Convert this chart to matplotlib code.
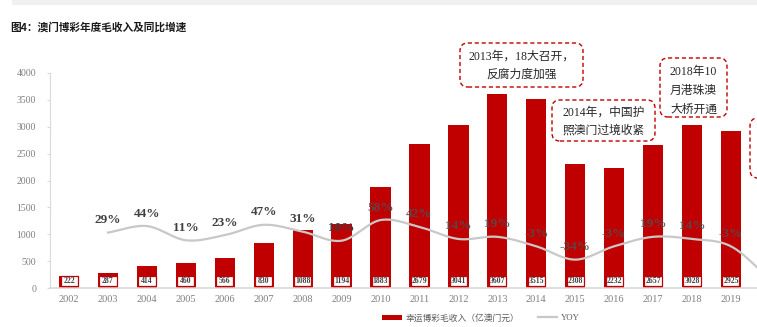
import numpy as np
import matplotlib
matplotlib.use("Agg")
import matplotlib.pyplot as plt
from matplotlib.patches import FancyBboxPatch, Rectangle
from matplotlib.lines import Line2D

years = ["2002", "2003", "2004", "2005", "2006", "2007", "2008", "2009", "2010",
         "2011", "2012", "2013", "2014", "2015", "2016", "2017", "2018", "2019"]
revenue = [222, 287, 414, 460, 566, 830, 1088, 1194, 1883, 2679, 3041, 3607,
           3515, 2308, 2232, 2657, 3028, 2925]
# YOY for 2003..2020 (2020 only partly visible at the right edge)
yoy_years_idx = list(range(1, 19))
yoy = [0.29, 0.44, 0.11, 0.23, 0.47, 0.31, 0.10, 0.58, 0.42, 0.14, 0.19,
       -0.03, -0.34, -0.03, 0.19, 0.14, -0.03, -0.79]
yoy_labels = ["29%", "44%", "11%", "23%", "47%", "31%", "10%", "58%", "42%",
              "14%", "19%", "-3%", "-34%", "-3%", "19%", "14%", "-3%"]

W, H = 757, 327
fig = plt.figure(figsize=(W / 100, H / 100), dpi=100)
ax = fig.add_axes([50 / W, 1 - 288 / H, 1 - 50 / W, (288 - 73) / H])

RED = "#C00000"
serif = ["Liberation Serif", "Noto Sans CJK SC"]
cjk_serif = ["Liberation Serif", "Noto Sans CJK SC"]

x = np.arange(len(years))
ax.bar(x, revenue, width=0.52, color=RED, zorder=2)
# white value boxes at the foot of each bar
ax.bar(x, 180, bottom=40, width=0.44, color="white", edgecolor=RED, lw=0.9, zorder=3)
for xi, v in zip(x, revenue):
    ax.text(xi, 130, str(v), ha="center", va="center", fontsize=5.6, fontweight="bold",
            family=serif, color="#404040", zorder=4)

ax.set_xlim(-0.49, 17.67)
ax.set_ylim(0, 4000)
ax.set_yticks(np.arange(0, 4001, 500))
ax.set_xticks(x)
ax.set_xticklabels(years)
for lab in ax.get_yticklabels():
    lab.set_family(serif); lab.set_fontsize(7); lab.set_color("#7f7f7f")
for lab in ax.get_xticklabels():
    lab.set_family(serif); lab.set_fontsize(7.5); lab.set_color("#7f7f7f")
ax.tick_params(axis="x", length=0, pad=5)
ax.tick_params(axis="y", length=2, width=0.8, color="#d9d9d9", pad=8)
for s in ["top", "right"]:
    ax.spines[s].set_visible(False)
ax.spines["left"].set_color("#d9d9d9")
ax.spines["bottom"].set_color("#d9d9d9")
ax.spines["bottom"].set_linewidth(1.2)

# secondary axis for YOY
ax2 = ax.twinx()
ax2.set_ylim(-1, 4)
ax2.set_xlim(ax.get_xlim())
ax2.axis("off")


def catmull(xs, ys, n=20):
    xs = np.asarray(xs, float); ys = np.asarray(ys, float)
    px = np.concatenate([[2 * xs[0] - xs[1]], xs, [2 * xs[-1] - xs[-2]]])
    py = np.concatenate([[2 * ys[0] - ys[1]], ys, [2 * ys[-1] - ys[-2]]])
    ox, oy = [], []
    for i in range(1, len(px) - 2):
        t = np.linspace(0, 1, n, endpoint=False)
        for P, out in ((px, ox), (py, oy)):
            p0, p1, p2, p3 = P[i - 1], P[i], P[i + 1], P[i + 2]
            out.extend(0.5 * (2 * p1 + (-p0 + p2) * t + (2 * p0 - 5 * p1 + 4 * p2 - p3) * t ** 2
                              + (-p0 + 3 * p1 - 3 * p2 + p3) * t ** 3))
    ox.append(xs[-1]); oy.append(ys[-1])
    return np.array(ox), np.array(oy)


sx, sy = catmull(yoy_years_idx, yoy)
ax2.plot(sx, sy, color="#c8c8c8", lw=1.6, zorder=3, clip_on=True)

for i, (xi, v, lab) in enumerate(zip(yoy_years_idx, yoy, yoy_labels)):
    col = "#404040" if i < 7 else "#505050"
    alpha = 1.0 if i < 7 else 0.85
    ax2.annotate(lab, (xi, v), xytext=(0, 9), textcoords="offset points",
                 ha="center", va="center", fontsize=9.5, fontweight="bold",
                 family=serif, color=col, alpha=alpha, zorder=5)

# top gray band
fig.add_artist(Rectangle((12 / W, 1 - 5 / H), 1, 5 / H, transform=fig.transFigure,
                         fc="#f0f0f0", ec="none"))
fig.text(10 / W, 1 - 27 / H, "图4：澳门博彩年度毛收入及同比增速", fontsize=7.7,
         fontweight="bold", family=["Noto Sans CJK SC", "DejaVu Sans"],
         color="#1a1a1a", va="center", ha="left")


def px2in(xp, yp):
    return xp / 100, (H - yp) / 100


def dashed_box(x0, y0, x1, y1, lines, ys):
    bx, by = px2in(x0, y1)
    fig.add_artist(FancyBboxPatch((bx, by), (x1 - x0) / 100, (y1 - y0) / 100,
                                  boxstyle="round,pad=0,rounding_size=0.08",
                                  transform=fig.dpi_scale_trans, fc="white",
                                  ec=RED, lw=1.0, ls=(0, (3, 2)), zorder=6))
    cx = (x0 + x1) / 2
    for t, yy in zip(lines, ys):
        tx, ty = px2in(cx, yy)
        fig.text(tx, ty, t, transform=fig.dpi_scale_trans, ha="center", va="center",
                 fontsize=8.5, family=cjk_serif, color="#262626", zorder=7)


dashed_box(460, 43, 583, 87, ["2013年，18大召开，", "反腐力度加强"], [57, 75])
dashed_box(552, 100, 655, 141, ["2014年，中国护", "照澳门过境收紧"], [113, 131])
dashed_box(660, 58, 727, 117, ["2018年10", "月港珠澳", "大桥开通"], [72, 91, 110])
dashed_box(750, 118, 830, 178, [], [])

# legend
handles = [Rectangle((0, 0), 1, 1, fc=RED, ec="none"),
           Line2D([0], [0], color="#c8c8c8", lw=1.6)]
leg = fig.legend(handles, ["幸运博彩毛收入（亿澳门元）", "YOY"], loc="center",
                 bbox_to_anchor=(481 / W, 1 - 318 / H), ncol=2, frameon=False,
                 prop={"family": cjk_serif, "size": 6.3}, handlelength=2.2,
                 handleheight=0.6, columnspacing=2.2, handletextpad=0.4)
for t in leg.get_texts():
    t.set_color("#595959")

fig.savefig("out.png", dpi=100)
